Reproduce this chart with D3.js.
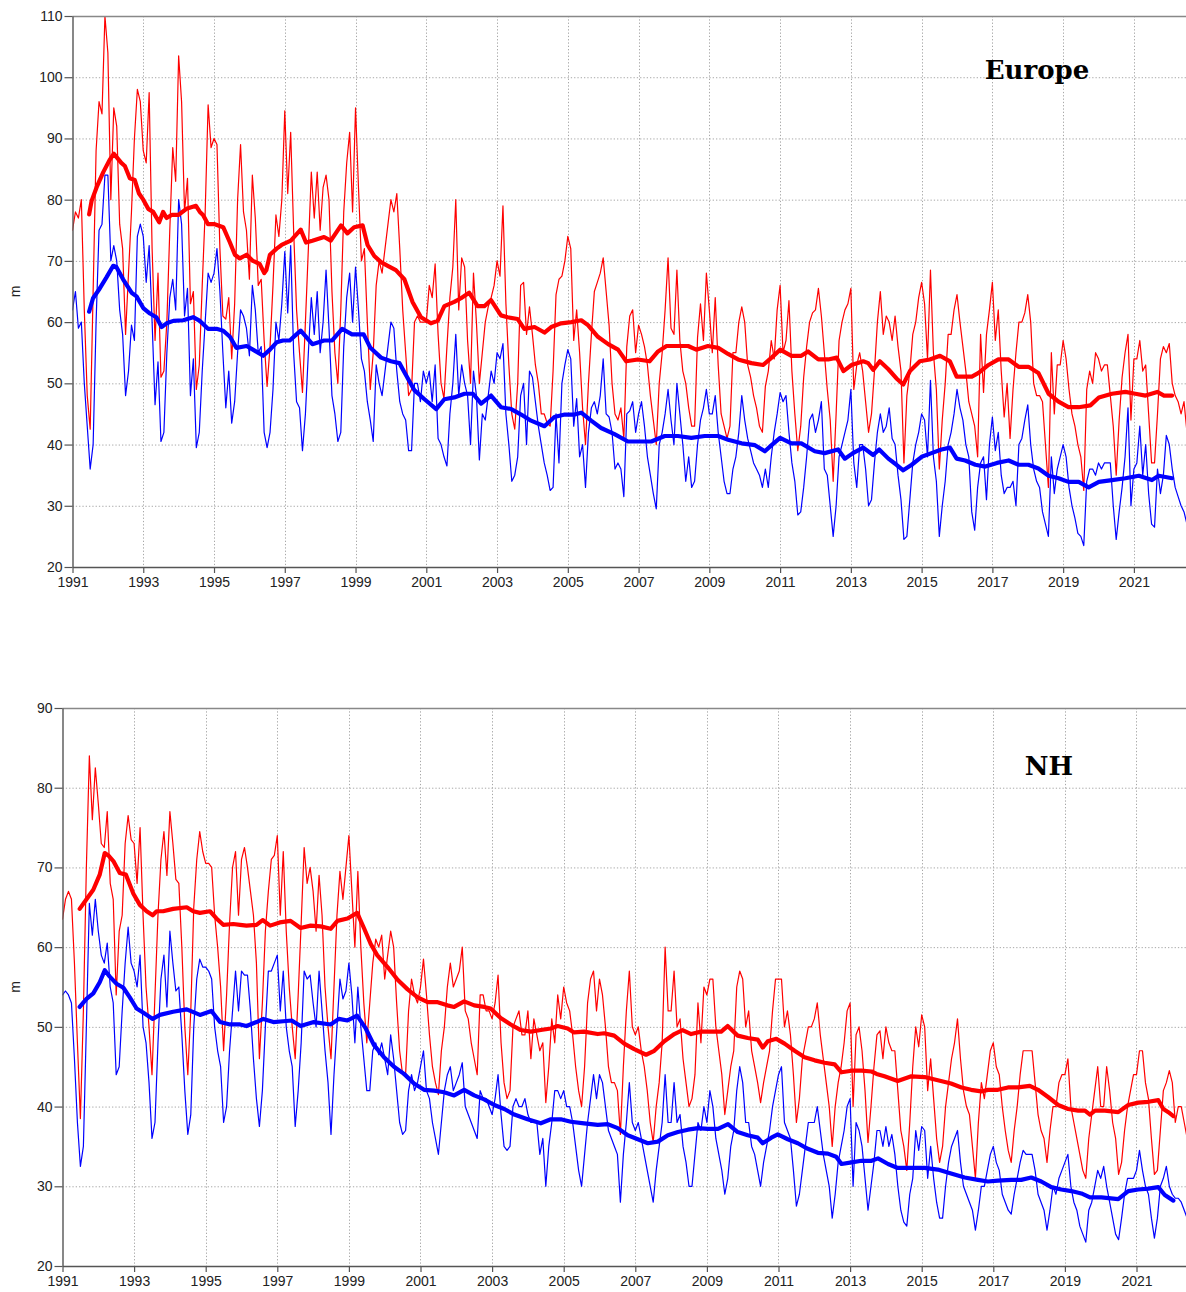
<!DOCTYPE html>
<html>
<head>
<meta charset="utf-8">
<script src="https://cdn.jsdelivr.net/npm/d3@7"></script>
<style>
  body { margin: 0; background: #fff; }
  svg { display: block; }
</style>
</head>
<body>
<svg id="chart" width="1186" height="1292"></svg>
<script>
// ---------- tick labels ----------
const yearTicks = [1991, 1993, 1995, 1997, 1999, 2001, 2003, 2005, 2007, 2009, 2011, 2013, 2015, 2017, 2019, 2021];
const europeYTicks = [20, 30, 40, 50, 60, 70, 80, 90, 100, 110];
const nhYTicks = [20, 30, 40, 50, 60, 70, 80, 90];
const firstYear = 1991;

// ---------- monthly values (one row per year, Jan..Dec), m ----------
const europeRed = [
  [75, 78, 77, 80, 62, 48, 42.5, 65, 88, 96, 94, 110],
  [104, 80, 95, 92, 76, 72, 58, 68, 78, 90, 98, 96],
  [88, 86, 97.5, 72, 57, 68, 51, 52, 60, 75, 88.5, 83],
  [103.5, 96, 78, 83.5, 63, 65, 49, 53, 66, 78, 95.5, 88.5],
  [90, 89, 72, 61, 60.5, 64, 54, 63, 80, 89, 78, 75],
  [67, 84, 77, 66, 67, 57, 49.5, 56, 66, 77.5, 74, 80],
  [94.5, 81, 91, 75, 62, 55, 48.5, 60, 72, 84.5, 77, 84.5],
  [75, 82, 84, 80, 65, 55, 50, 62, 78, 86, 91, 78],
  [95, 82, 70, 72, 60, 49, 55, 66, 70, 68, 72, 76],
  [80, 78, 81, 72, 62, 55, 48, 49, 60, 61, 60, 60],
  [60, 66, 64, 69.5, 58, 50, 47.5, 56, 64, 69, 80, 62],
  [70.5, 69, 57, 50, 68, 60, 50, 55, 60, 62.5, 64, 66],
  [70, 67.5, 79, 63, 53, 45, 42.5, 50, 66, 66.5, 58, 62.5],
  [58, 53, 50, 45, 45, 43.5, 43, 52, 64.5, 67, 67.5, 70],
  [74, 72, 57, 62, 55, 46, 40, 50, 58, 65, 66.5, 68],
  [70.5, 65, 59.5, 50, 45, 44, 46, 41, 56, 61, 62, 55],
  [59.5, 58, 56, 53, 48, 44, 40, 50, 55, 62, 70.5, 59],
  [58, 68.5, 57, 52, 50, 46, 43, 43, 57.5, 63, 57, 68],
  [62, 55, 64, 53, 45, 43, 41, 43, 55, 55, 60, 62.5],
  [60, 53, 51, 48, 46, 43, 42, 49.5, 52, 57, 54, 62],
  [66, 55, 57, 63.5, 52, 45, 39, 43, 51, 56, 60, 61.5],
  [62, 65.5, 61, 55, 49, 44, 34, 45, 57, 60, 62, 63],
  [65.5, 49, 53, 55, 52, 47, 42, 45, 52, 60, 65, 58],
  [61, 60, 57, 61, 56, 52, 37, 48, 52, 58, 60, 64],
  [66.5, 63, 54, 68.5, 55, 49, 36, 44, 50, 58, 58, 62],
  [64.5, 60, 56, 52, 47, 45, 43, 38, 58, 48.5, 58, 62],
  [66.5, 57, 62, 52, 44.5, 50, 41, 49, 55, 60, 60, 61.5],
  [64.5, 60, 50, 48, 48, 47, 40, 33, 55, 45, 53, 53],
  [57, 54, 49, 45, 43, 40, 38, 32.5, 49, 52, 50, 55],
  [54, 52, 53, 53, 48, 43, 35, 44, 51, 55, 58, 44],
  [54, 54, 57, 52, 53, 45, 37, 37, 45, 54, 56, 55],
  [56.5, 50, 48, 47, 45, 47, 42]
];
const europeBlue = [
  [62, 65, 59, 60, 50, 43, 36, 40, 60, 75, 76, 84],
  [84, 70, 72.5, 70, 62, 58, 48, 52, 59.5, 57, 74, 76],
  [74, 66.5, 72.5, 60, 46.5, 53.5, 40.5, 42, 55, 64, 67, 62],
  [80, 76, 61, 65.5, 48, 54, 39.5, 42, 52, 60, 68, 66.5],
  [68, 72, 65, 55, 46, 52, 43.5, 47, 55, 62, 61, 59],
  [54.5, 66, 62, 55, 56, 42, 39.5, 42, 49, 60, 57, 63],
  [71.5, 61.5, 72.5, 55, 47, 46, 39, 45, 55, 64, 58, 65],
  [55, 60, 68.5, 59, 48, 45, 40.5, 42, 56, 64, 68, 60],
  [69, 62, 54, 52, 47, 44, 40.5, 53, 50, 48, 52, 56],
  [60, 59, 52, 47, 45, 44, 39, 39, 50, 50, 47, 52],
  [50, 52, 47, 53, 41, 40, 38, 36.5, 45, 50, 58, 48],
  [53, 50, 48, 40, 52, 48, 37.5, 45, 44, 48, 52, 50],
  [55, 54, 56.5, 45, 40, 34, 35, 38, 48, 50, 40, 52],
  [51, 47, 43, 40, 37, 35, 32.5, 33, 45, 37, 50, 53],
  [55.5, 54, 43, 47.5, 38, 40, 33, 42, 46, 47, 45, 48],
  [54, 45, 44.5, 42, 36, 37, 36, 31.5, 45, 45.5, 47, 42],
  [45, 47, 43, 38, 35, 32, 29.5, 40, 42, 45, 49, 44],
  [40, 50, 45, 40, 34, 38, 33, 34, 40, 44, 46, 49],
  [45, 45, 48, 42, 38, 34, 32, 32, 36, 38, 42, 48],
  [44, 41, 39, 37, 36, 35, 33, 36, 33, 38, 42, 45],
  [48.5, 47, 48, 42, 37, 34, 28.5, 29, 33, 38, 44, 45],
  [42, 44, 47, 36, 35, 30, 25, 30, 38, 40, 42, 44],
  [49, 37, 33, 40, 40, 36, 30, 31, 37, 42, 45, 42],
  [43, 46, 41, 40, 35, 31, 24.5, 25, 31, 37, 40, 42],
  [45, 44, 38, 50.5, 38, 34, 25, 30, 34, 40, 42, 45],
  [49, 46, 44, 40, 38, 29, 26, 33, 37, 38, 31, 40],
  [44.5, 39, 42, 35, 32, 33, 33, 34, 30, 40, 41, 44],
  [46.5, 40, 36, 34, 33, 29, 27, 25, 38, 32, 36, 38],
  [40, 38, 33, 30, 28, 25.5, 25, 23.5, 34, 36, 36, 35],
  [37, 36, 37, 37, 37, 30, 24.5, 29, 33, 38, 46, 30],
  [36, 37, 43, 35, 40, 32, 27, 26.5, 36, 32, 35, 41.5],
  [40, 36, 33, 31.5, 30, 29, 27]
];
const nhRed = [
  [63.5, 66, 67, 66, 58, 48, 38.5, 52, 70, 84, 76, 82.5],
  [78, 73, 72.5, 77, 68, 66, 54, 62, 64, 73, 76.5, 73.5],
  [73, 68, 75, 64, 55, 50, 44, 54, 64, 71, 74.5, 69],
  [77, 73, 68.5, 68, 60, 50, 44, 52, 65, 71, 74.5, 72],
  [70.5, 70.5, 70, 64, 60, 55, 47, 54, 63, 70, 72, 64],
  [71, 72.5, 70, 67, 64, 58, 46, 53, 62, 67, 71, 71.5],
  [74, 64, 72, 62, 55, 50, 46, 54, 63, 72.5, 68, 70],
  [67, 62, 69, 64, 55, 50, 46, 55, 64, 69.5, 66, 70],
  [74, 67, 60, 69.5, 60, 53, 48, 53, 58, 61, 60, 61.5],
  [56, 59, 62, 60, 53, 47, 44, 44, 52, 56, 54, 53],
  [55, 58.5, 54, 49, 45, 43, 41.5, 47, 50, 55, 58, 55],
  [56, 57, 60, 52, 51, 48, 46, 44, 54, 54, 52, 52],
  [51, 53, 56.5, 48, 43, 41, 42, 50, 51, 52, 49, 49],
  [52, 46, 51, 49, 47, 48, 40.5, 45, 51, 48, 54, 51],
  [55, 53, 52, 49, 45, 42, 40, 45, 53, 56, 57, 52],
  [56, 54, 50, 45, 43, 43, 42, 36.5, 45, 52, 57, 50],
  [49, 50, 47, 45, 42, 38, 35.5, 40, 43, 48, 60, 52],
  [52, 57, 50, 51, 46, 43, 40, 41, 44, 53, 48, 55],
  [54, 56, 56, 50, 47, 44, 39, 42, 45, 47, 55, 57],
  [56, 50, 52, 47, 45, 43, 40.5, 43, 45, 47, 52, 56],
  [56, 56, 50, 52, 49, 44, 38, 41, 46, 48, 50, 50],
  [51, 53, 49, 46, 43, 40, 35, 40, 43, 45, 48, 52],
  [53, 40, 49, 50, 47, 42, 35.5, 40, 45, 49, 49.5, 46],
  [50, 48, 47, 47, 42, 37, 35, 32, 38, 45, 50, 47.5],
  [51.5, 50, 42, 46, 41, 36, 33, 35, 40, 43, 46, 48],
  [51, 46, 42, 40, 39, 35, 31, 38, 43, 41, 44, 47],
  [48, 45, 44, 40, 37, 34.5, 33, 37, 40, 44, 47, 47],
  [47, 47, 43, 39, 37, 36, 33, 37, 40, 40, 43, 44],
  [44, 46, 40, 38, 36, 34, 32, 31, 36, 39, 42, 45],
  [40, 40, 45, 42, 38, 36, 31.5, 33, 37, 40, 42, 44],
  [44, 47, 47, 43, 41, 36, 31.5, 32, 37, 42, 43, 44.5],
  [43, 38, 40, 40, 38, 36, 34.5]
];
const nhBlue = [
  [54, 54.5, 54, 53, 46, 38, 32.5, 35, 50, 65.5, 61.5, 66],
  [62, 59, 58, 60.5, 55, 53, 44, 45, 52, 58, 62.5, 58],
  [57, 55, 59, 50, 48, 43, 36, 38, 48, 56, 59, 52.5],
  [62, 58, 54.5, 55, 49, 42, 36.5, 39, 50, 56, 58.5, 57.5],
  [57.5, 57, 56, 50, 47, 45, 38, 40, 47, 52, 57, 52],
  [57, 56.5, 56.5, 52, 46, 41, 37.5, 42, 50, 57, 57, 58],
  [59, 52, 57, 50, 47, 45, 37.5, 42, 48, 57, 56, 56.5],
  [53, 50, 57, 52, 47, 43, 36.5, 44, 50, 56, 53.5, 54.5],
  [58, 54, 48, 55, 50, 46, 42, 42, 47, 48, 46.5, 48],
  [46, 44, 49, 46, 42, 38, 36.5, 37, 42, 44, 42, 43],
  [45, 47, 42, 41, 38, 36, 34, 38, 42, 44, 45, 42],
  [43, 44, 45.5, 40, 39, 38, 37, 36, 42, 41, 41, 40],
  [39, 41, 44, 39, 35, 34.5, 35, 40, 41, 40, 40, 41],
  [39, 38, 38, 38, 34, 36, 30, 35, 38, 42, 42, 41],
  [42, 40, 40, 38, 35, 32, 30, 34, 38, 41, 44, 41],
  [44, 43, 40, 37, 36, 35, 34, 28, 34, 38, 43, 38],
  [37, 38, 36, 34, 32, 30, 28, 32, 35, 38, 44, 38],
  [38, 43, 38, 39, 35, 33, 30, 30, 34, 38, 37, 40],
  [38, 42, 40, 36, 34, 32, 29, 31, 35, 37, 42, 45],
  [43, 38, 38, 35, 34, 32, 30, 33, 35, 37, 40, 42],
  [44, 45, 38, 37, 36, 32, 27.5, 29, 32, 35, 38, 38],
  [38, 40, 37, 34, 32, 30, 26, 29, 33, 35, 37, 40],
  [41, 30, 38, 37, 35, 31, 27, 30, 33, 37, 37, 35],
  [37.5, 35, 36.5, 34, 30, 27, 25.5, 25, 29, 31, 37, 34.5],
  [37.5, 37, 31, 35, 31, 28, 26, 26, 30, 33, 35, 36],
  [37, 33, 30, 29, 28, 27, 24.5, 27, 30, 30, 32, 34],
  [35, 33, 32, 29, 28, 27, 26.5, 29, 31, 33, 34.5, 34],
  [34, 34, 32, 29, 28, 27, 24.5, 27, 30, 29, 31, 32],
  [33, 34, 30, 28, 27, 25, 24, 23, 27, 28, 30, 32],
  [31, 32.5, 30, 28, 26, 24, 23.3, 26, 29, 31, 31, 31],
  [32, 34.5, 32, 30, 29, 26, 23.5, 26, 30, 31, 32.5, 30],
  [29, 28.5, 28.5, 28, 27, 26, 25.5]
];

// ---------- 12-month running means: [decimal year, m] ----------
const europeRedMean = [[1991.47,77.6],[1991.54,79.8],[1991.68,82],[1991.87,84.5],[1992.05,86.5],[1992.17,87.5],[1992.24,87],[1992.38,86],[1992.48,85.5],[1992.62,83.5],[1992.76,83.2],[1992.88,81],[1993.0,80],[1993.14,78.5],[1993.28,78],[1993.45,76.3],[1993.56,78],[1993.66,77],[1993.8,77.5],[1993.99,77.5],[1994.22,78.5],[1994.49,79],[1994.6,78],[1994.69,77.5],[1994.83,76],[1995.02,76],[1995.26,75.5],[1995.45,73],[1995.59,71],[1995.73,70.4],[1995.92,71],[1996.1,70],[1996.29,69.5],[1996.42,68],[1996.48,68.5],[1996.58,71],[1996.77,72],[1996.91,72.6],[1997.17,73.3],[1997.45,75.1],[1997.6,73],[1997.78,73.3],[1998.11,73.9],[1998.3,73.3],[1998.59,75.8],[1998.77,74.5],[1998.96,75.5],[1999.2,75.8],[1999.34,72.6],[1999.53,70.8],[1999.72,69.8],[1999.91,69.2],[2000.14,68.5],[2000.38,67],[2000.61,63.3],[2000.85,60.8],[2001.13,59.8],[2001.32,60.2],[2001.51,62.6],[2001.79,63.3],[2001.98,63.9],[2002.21,64.8],[2002.45,62.6],[2002.64,62.6],[2002.83,63.6],[2003.11,61.1],[2003.3,60.8],[2003.58,60.5],[2003.77,58.9],[2004.06,59.2],[2004.34,58.3],[2004.53,59.2],[2004.81,59.8],[2005.1,60],[2005.38,60.3],[2005.57,59.5],[2005.85,57.6],[2006.14,56.4],[2006.42,55.5],[2006.65,53.6],[2006.98,53.9],[2007.31,53.6],[2007.55,55.2],[2007.79,56.1],[2008.11,56.1],[2008.4,56.1],[2008.63,55.5],[2008.96,56.1],[2009.25,55.8],[2009.53,54.8],[2009.81,53.9],[2010.19,53.3],[2010.52,53],[2010.76,54.2],[2011.0,55.5],[2011.32,54.5],[2011.6,54.5],[2011.79,55.2],[2012.08,53.9],[2012.36,53.9],[2012.6,54.2],[2012.79,52],[2013.02,53],[2013.35,53.6],[2013.49,53.3],[2013.63,52.2],[2013.82,53.6],[2014.06,52.3],[2014.29,50.8],[2014.48,49.8],[2014.67,52],[2014.95,53.6],[2015.23,53.9],[2015.52,54.5],[2015.8,53.6],[2015.99,51.1],[2016.23,51.1],[2016.42,51.1],[2016.61,51.7],[2016.89,53],[2017.17,53.9],[2017.46,53.9],[2017.74,52.7],[2018.02,52.7],[2018.3,51.7],[2018.59,48.3],[2018.87,47],[2019.15,46.1],[2019.44,46.1],[2019.77,46.4],[2020.01,47.7],[2020.38,48.3],[2020.76,48.6],[2021.04,48.3],[2021.33,48],[2021.66,48.6],[2021.85,48],[2022.08,48]];
const europeBlueMean = [[1991.47,61.7],[1991.58,63.9],[1991.77,65.5],[1991.96,67.3],[1992.15,69.2],[1992.24,69],[1992.43,67],[1992.67,64.8],[1992.81,64.2],[1993.0,62.3],[1993.19,61.4],[1993.37,60.8],[1993.52,59.2],[1993.66,59.8],[1993.85,60.2],[1994.13,60.3],[1994.41,60.8],[1994.6,60.2],[1994.83,58.9],[1995.07,58.9],[1995.26,58.6],[1995.45,57.6],[1995.63,55.8],[1995.92,56.1],[1996.1,55.5],[1996.39,54.5],[1996.58,55.5],[1996.77,56.7],[1996.95,57],[1997.14,57],[1997.33,58],[1997.45,58.6],[1997.78,56.4],[1998.11,57],[1998.34,57],[1998.62,58.9],[1998.9,58],[1999.23,58],[1999.42,55.8],[1999.72,54.2],[2000.0,53.6],[2000.24,53.3],[2000.42,51.4],[2000.66,48.9],[2000.95,47.4],[2001.28,45.8],[2001.51,47.4],[2001.79,47.7],[2002.08,48.3],[2002.32,48.3],[2002.55,46.7],[2002.83,48],[2003.11,46.1],[2003.4,45.8],[2003.68,44.9],[2003.96,43.9],[2004.34,43],[2004.62,44.5],[2004.91,44.9],[2005.19,44.9],[2005.38,45.2],[2005.66,43.9],[2005.94,42.7],[2006.32,41.7],[2006.7,40.5],[2007.08,40.5],[2007.36,40.5],[2007.74,41.4],[2008.11,41.4],[2008.49,41.1],[2008.87,41.4],[2009.25,41.4],[2009.53,40.8],[2009.91,40.2],[2010.29,39.9],[2010.57,38.9],[2010.76,39.9],[2011.0,41.1],[2011.32,40.2],[2011.6,40.2],[2011.98,38.9],[2012.26,38.6],[2012.64,39.2],[2012.83,37.7],[2013.06,38.6],[2013.35,39.5],[2013.63,38.3],[2013.8,39.2],[2014.06,37.7],[2014.29,36.7],[2014.48,35.8],[2014.72,36.7],[2015.0,38],[2015.28,38.6],[2015.56,39.2],[2015.8,39.5],[2015.99,37.7],[2016.23,37.4],[2016.52,36.7],[2016.8,36.4],[2017.13,37],[2017.46,37.4],[2017.74,36.7],[2018.02,36.7],[2018.3,36.1],[2018.59,34.9],[2018.87,34.5],[2019.15,33.9],[2019.44,33.9],[2019.72,33],[2020.01,33.9],[2020.38,34.2],[2020.76,34.5],[2021.14,34.9],[2021.51,34.2],[2021.7,34.9],[2022.08,34.5]];
const nhRedMean = [[1991.48,64.8],[1991.67,66],[1991.86,67.2],[1992.04,69.1],[1992.18,71.8],[1992.28,71.5],[1992.42,70.8],[1992.6,69.3],[1992.77,69.1],[1992.98,66.7],[1993.16,65.3],[1993.35,64.5],[1993.52,64],[1993.63,64.5],[1993.81,64.5],[1994.09,64.8],[1994.47,65],[1994.65,64.5],[1994.84,64.3],[1995.12,64.5],[1995.3,63.6],[1995.49,62.8],[1995.77,62.9],[1995.96,62.8],[1996.14,62.7],[1996.42,62.8],[1996.59,63.4],[1996.8,62.7],[1997.07,63.1],[1997.37,63.3],[1997.65,62.4],[1997.93,62.7],[1998.21,62.6],[1998.49,62.3],[1998.68,63.3],[1998.96,63.6],[1999.23,64.3],[1999.42,62.4],[1999.61,60.4],[1999.79,59],[2000.08,57.5],[2000.36,55.9],[2000.64,54.7],[2000.92,53.7],[2001.2,53.1],[2001.48,53.1],[2001.75,52.7],[2001.94,52.5],[2002.22,53.2],[2002.5,52.7],[2002.78,52.5],[2002.96,52.3],[2003.24,51.1],[2003.52,50.3],[2003.8,49.6],[2004.08,49.4],[2004.36,49.6],[2004.64,49.8],[2004.83,50.1],[2005.11,49.8],[2005.29,49.3],[2005.57,49.4],[2005.95,49.1],[2006.13,49.2],[2006.41,48.9],[2006.69,47.9],[2006.97,47.2],[2007.3,46.5],[2007.53,47],[2007.81,48.2],[2008.09,49.1],[2008.32,49.6],[2008.56,49.1],[2008.84,49.4],[2009.12,49.4],[2009.4,49.4],[2009.58,50.1],[2009.86,48.9],[2010.14,48.6],[2010.42,48.4],[2010.56,47.4],[2010.7,48.2],[2010.94,48.5],[2011.17,47.9],[2011.45,47],[2011.73,46.2],[2012.01,45.8],[2012.29,45.5],[2012.57,45.3],[2012.76,44.3],[2013.04,44.5],[2013.32,44.5],[2013.6,44.4],[2013.74,44.1],[2013.96,43.8],[2014.33,43.2],[2014.71,43.8],[2015.08,43.7],[2015.45,43.3],[2015.82,42.9],[2016.11,42.4],[2016.38,42.1],[2016.66,41.9],[2016.85,42.1],[2017.13,42.1],[2017.41,42.4],[2017.69,42.4],[2018.02,42.6],[2018.25,42.1],[2018.53,41.2],[2018.81,40.2],[2019.09,39.7],[2019.37,39.5],[2019.56,39.5],[2019.7,39],[2019.84,39.5],[2020.12,39.5],[2020.49,39.3],[2020.77,40.2],[2021.05,40.5],[2021.33,40.6],[2021.61,40.8],[2021.75,39.7],[2021.89,39.3],[2022.03,38.8]];
const nhBlueMean = [[1991.48,52.5],[1991.67,53.5],[1991.86,54.2],[1992.04,55.6],[1992.18,57.1],[1992.32,56.3],[1992.51,55.4],[1992.7,54.9],[1992.88,53.7],[1993.07,52.3],[1993.25,51.8],[1993.52,51],[1993.72,51.5],[1994.09,51.9],[1994.47,52.2],[1994.84,51.5],[1995.16,52],[1995.4,50.6],[1995.68,50.3],[1995.96,50.3],[1996.14,50.1],[1996.42,50.6],[1996.61,51],[1996.89,50.6],[1997.17,50.7],[1997.4,50.8],[1997.65,50.1],[1998.02,50.6],[1998.49,50.3],[1998.72,51],[1998.96,50.8],[1999.23,51.4],[1999.47,49.8],[1999.7,47.7],[1999.98,46.2],[2000.26,45],[2000.54,44.1],[2000.82,42.9],[2001.1,42.1],[2001.38,42],[2001.66,41.8],[2001.94,41.4],[2002.22,42.1],[2002.5,41.4],[2002.78,40.9],[2003.06,40.2],[2003.34,39.7],[2003.62,39],[2003.99,38.4],[2004.36,37.9],[2004.64,38.4],[2004.92,38.4],[2005.2,38.1],[2005.57,37.9],[2005.95,37.7],[2006.23,37.8],[2006.51,37.3],[2006.79,36.4],[2007.07,35.9],[2007.35,35.4],[2007.63,35.6],[2007.91,36.4],[2008.19,36.8],[2008.47,37.1],[2008.75,37.3],[2009.03,37.2],[2009.31,37.2],[2009.59,37.8],[2009.86,36.8],[2010.14,36.4],[2010.42,36.1],[2010.56,35.4],[2010.8,36.1],[2010.98,36.5],[2011.26,35.9],[2011.54,35.4],[2011.82,34.7],[2012.1,34.2],[2012.38,34.1],[2012.61,33.7],[2012.76,32.8],[2013.04,33],[2013.32,33.2],[2013.6,33.2],[2013.78,33.5],[2014.06,32.8],[2014.33,32.3],[2014.71,32.3],[2015.08,32.3],[2015.45,32.1],[2015.82,31.6],[2016.2,31.1],[2016.57,30.8],[2016.85,30.6],[2017.13,30.7],[2017.5,30.8],[2017.78,30.8],[2018.06,31.1],[2018.34,30.6],[2018.62,29.9],[2018.9,29.6],[2019.18,29.4],[2019.46,29.1],[2019.7,28.6],[2020.02,28.6],[2020.49,28.4],[2020.77,29.4],[2021.05,29.6],[2021.33,29.7],[2021.61,29.9],[2021.79,28.9],[2022.03,28.2]];

// ---------- drawing ----------
const W = 1186, H = 1292;
const RED = "#ff0000", BLUE = "#0000ff";
const AXIS = "#555", GRID = "#a8a8a8", TEXT = "#222";
const tickFont = "'Liberation Sans', Arial, Helvetica, sans-serif";

// monthly rows -> [decimal year, value]
function toSeries(rows) {
  const pts = [];
  rows.forEach((row, r) => row.forEach((v, j) => pts.push([firstYear + r + j / 12, v])));
  return pts;
}

const panels = [
  { id: "eu", title: "Europe", red: europeRed, blue: europeBlue, redMean: europeRedMean, blueMean: europeBlueMean,
    yTicks: europeYTicks, yDomain: [20, 110], left: 72.5, pxPerYear: 35.38, top: 16, bottom: 567,
    titleX: 1037, titleY: 79 },
  { id: "nh", title: "NH", red: nhRed, blue: nhBlue, redMean: nhRedMean, blueMean: nhBlueMean,
    yTicks: nhYTicks, yDomain: [20, 90], left: 62.5, pxPerYear: 35.8, top: 708, bottom: 1266,
    titleX: 1049, titleY: 775 }
];

const svg = d3.select("#chart");
svg.append("rect").attr("width", W).attr("height", H).attr("fill", "#fff");
const defs = svg.append("defs");

panels.forEach(p => {
  const x = d3.scaleLinear().domain([1991, 2022.5]).range([p.left, p.left + 31.5 * p.pxPerYear]);
  const y = d3.scaleLinear().domain(p.yDomain).range([p.bottom, p.top]);
  const g = svg.append("g");

  defs.append("clipPath").attr("id", "clip-" + p.id)
    .append("rect").attr("x", p.left).attr("y", p.top)
    .attr("width", W - p.left).attr("height", p.bottom - p.top);

  // dotted grid
  const grid = g.append("g").attr("stroke", GRID).attr("stroke-width", 1).attr("stroke-dasharray", "1.3,2");
  grid.selectAll("line.h").data(p.yTicks.filter(v => v !== p.yDomain[0])).join("line")
    .attr("x1", p.left).attr("x2", W).attr("y1", d => y(d) + 0.5).attr("y2", d => y(d) + 0.5);
  grid.selectAll("line.v").data(yearTicks.filter(v => v !== 1991)).join("line")
    .attr("x1", d => Math.round(x(d)) + 0.5).attr("x2", d => Math.round(x(d)) + 0.5)
    .attr("y1", p.top).attr("y2", p.bottom);

  // series
  const line = d3.line().x(d => x(d[0])).y(d => y(d[1]));
  const plot = g.append("g").attr("clip-path", `url(#clip-${p.id})`).attr("fill", "none")
    .attr("stroke-linejoin", "round").attr("stroke-linecap", "round");
  plot.append("path").datum(toSeries(p.red)).attr("d", line).attr("stroke", RED).attr("stroke-width", 1.2);
  plot.append("path").datum(toSeries(p.blue)).attr("d", line).attr("stroke", BLUE).attr("stroke-width", 1.2);
  plot.append("path").datum(p.redMean).attr("d", line).attr("stroke", RED).attr("stroke-width", 4.2);
  plot.append("path").datum(p.blueMean).attr("d", line).attr("stroke", BLUE).attr("stroke-width", 4.2);

  // top frame line
  g.append("line").attr("x1", p.left).attr("x2", W).attr("y1", p.top + 0.5).attr("y2", p.top + 0.5)
    .attr("stroke", "#888").attr("stroke-width", 1.3);

  // axes
  const yAxis = g.append("g").attr("transform", `translate(${p.left},0)`)
    .call(d3.axisLeft(y).tickValues(p.yTicks).tickSize(8).tickSizeOuter(0).tickPadding(2));
  const xAxis = g.append("g").attr("transform", `translate(0,${p.bottom})`)
    .call(d3.axisBottom(x).tickValues(yearTicks).tickFormat(d3.format("d")).tickSize(6).tickSizeOuter(0).tickPadding(4));
  [yAxis, xAxis].forEach(a => {
    a.attr("font-family", tickFont).attr("font-size", 14);
    a.select(".domain").attr("stroke", AXIS).attr("stroke-width", 1.4);
    a.selectAll(".tick line").attr("stroke", AXIS).attr("stroke-width", 1.2);
    a.selectAll(".tick text").attr("fill", TEXT);
  });

  // unit label
  g.append("text")
    .attr("transform", `translate(20,${(p.top + p.bottom) / 2}) rotate(-90)`)
    .attr("text-anchor", "middle")
    .attr("font-family", tickFont).attr("font-size", 14).attr("fill", TEXT)
    .text("m");

  // region title
  g.append("text")
    .attr("x", p.titleX).attr("y", p.titleY)
    .attr("text-anchor", "middle")
    .attr("font-family", "'DejaVu Serif', 'Liberation Serif', serif")
    .attr("font-weight", "bold").attr("font-size", 26).attr("fill", "#000")
    .text(p.title);
});
</script>
</body>
</html>
